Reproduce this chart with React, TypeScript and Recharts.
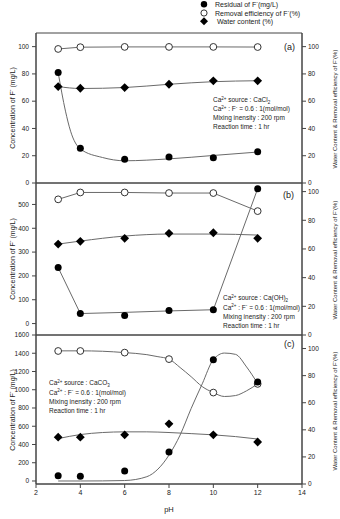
import React from 'react';
import { ComposedChart, Line, XAxis, YAxis, ReferenceArea } from 'recharts';

// pH values of the measurements
const PH = [3, 4, 6, 8, 10, 12];

// Panel (a) CaCl2
const residualA = [81, 25.5, 17.5, 19, 18.5, 23];
const removalA = [98.3, 99.6, 99.8, 99.8, 99.8, 99.7];
const waterA = [70.7, 69.5, 70, 72.4, 74.9, 74.9];
const fitPhA = [3, 3.33, 3.56, 4, 5, 6, 8, 10, 12];
const fitResidualA = [81, 52.7, 38, 25, 18.7, 16.3, 17.7, 20.2, 22.7];
const fitWaterA = [70.7, 69.3, 70, 72.4, 74.3, 75];

// Panel (b) Ca(OH)2
const residualB = [235, 42, 34, 55, 58, 566];
const removalB = [94.6, 99.4, 99.4, 99, 99, 86.4];
const waterB = [63.4, 65.3, 67.4, 70.9, 71.3, 67.4];
const fitResidualB = [235, 42, 47, 53, 58, 566];
const fitWaterB = [63.4, 65.5, 69, 70.4, 70.4, 69.7];

// Panel (c) CaCO3
const residualC = [58, 51, 109, 317, 1330, 1085];
const removalC = [98.2, 98.2, 97, 92.2, 67.5, 73.9];
const waterC = [34.6, 34.6, 36.3, 44.4, 36.3, 31];
const fitPhC = [3, 4, 5, 6, 7, 7.5, 8, 8.5, 9, 9.5, 10, 10.5, 11, 11.5, 12];
const fitResidualC = [0, 0, 1, 5, 47, 130, 284, 503, 795, 1065, 1330, 1402, 1388, 1250, 1068];
const fitRemovalC = [98.3, 98.3, 98, 97, 95.5, 94, 92.2, 86, 79.2, 71.9, 67.5, 64.6, 65.3, 68.8, 73.9];
const fitPhWaterC = [3, 4, 5, 6, 7, 8, 9, 10, 11, 12];
const fitWaterC = [33.5, 36.5, 38, 38.5, 38.5, 38, 37.2, 36.3, 35, 33.2];

// Tick labels
const PH_TICKS = [2, 4, 6, 8, 10, 12, 14];
const PCT_TICKS = [0, 20, 40, 60, 80, 100];
const CONC_TICKS_A = [0, 20, 40, 60, 80, 100];
const CONC_TICKS_B = [0, 100, 200, 300, 400, 500];
const CONC_TICKS_C = [0, 200, 400, 600, 800, 1000, 1200, 1400, 1600];

const FONT = '"Liberation Sans", Arial, Helvetica, sans-serif';
const INK = '#222';
const LINE = '#6a6a6a';

const pts = (xs: number[], ys: number[]) => xs.map((x, i) => ({ x, y: ys[i] }));

const FilledDot = (p: any) =>
  p.cx == null ? <g key={p.index} /> : <circle key={p.index} cx={p.cx} cy={p.cy} r={3.5} fill="#000" />;
const OpenDot = (p: any) =>
  p.cx == null ? <g key={p.index} /> : (
    <circle key={p.index} cx={p.cx} cy={p.cy} r={3.4} fill="#fff" stroke="#333" strokeWidth={1} />
  );
const DiamondDot = (p: any) => {
  if (p.cx == null) return <g key={p.index} />;
  const s = 4.4;
  return (
    <polygon
      key={p.index}
      points={`${p.cx},${p.cy - s} ${p.cx + s},${p.cy} ${p.cx},${p.cy + s} ${p.cx - s},${p.cy}`}
      fill="#000"
    />
  );
};

type Series = {
  data: { x: number; y: number }[];
  axis: 'l' | 'r';
  stroke?: boolean;
  curve?: 'monotone' | 'linear';
  marker?: 'filled' | 'open' | 'diamond';
};

function Panel(props: {
  top: number;
  height: number;
  mTop: number;
  mBottom: number;
  showX: boolean;
  lDomain: [number, number];
  lTicks: number[];
  rDomain: [number, number];
  rTicks: number[];
  series: Series[];
}) {
  const { top, height, mTop, mBottom, showX, lDomain, lTicks, rDomain, rTicks, series } = props;
  const tickStyle = { fontSize: 6.5, fill: INK, fontFamily: FONT };
  return (
    <div style={{ position: 'absolute', left: 0, top, width: 340, height }}>
      <ComposedChart width={340} height={height} margin={{ top: mTop, right: 0, bottom: mBottom, left: 0 }}>
        <XAxis
          type="number"
          dataKey="x"
          domain={[2, 14]}
          ticks={PH_TICKS}
          interval={0}
          hide={!showX}
          height={35}
          tickSize={4}
          tickMargin={2}
          stroke="#444"
          tick={{ fontSize: 7, fill: INK, fontFamily: FONT }}
          allowDataOverflow
        />
        <YAxis
          yAxisId="l"
          type="number"
          domain={lDomain}
          ticks={lTicks}
          interval={0}
          width={36}
          tickSize={4}
          tickMargin={3}
          stroke="#444"
          tick={tickStyle}
          allowDataOverflow
        />
        <YAxis
          yAxisId="r"
          orientation="right"
          type="number"
          domain={rDomain}
          ticks={rTicks}
          interval={0}
          width={38}
          tickSize={4}
          tickMargin={2}
          stroke="#444"
          tick={tickStyle}
          allowDataOverflow
        />
        <ReferenceArea
          yAxisId="l"
          x1={2}
          x2={14}
          y1={lDomain[0]}
          y2={lDomain[1]}
          fill="none"
          fillOpacity={0}
          stroke="#444"
          strokeWidth={1}
          ifOverflow="visible"
        />
        {series.map((s, i) => (
          <Line
            key={i}
            data={s.data}
            dataKey="y"
            yAxisId={s.axis}
            type={s.curve || 'linear'}
            stroke={s.stroke ? LINE : 'none'}
            strokeWidth={1}
            dot={
              s.marker === 'filled' ? FilledDot : s.marker === 'open' ? OpenDot : s.marker === 'diamond' ? DiamondDot : false
            }
            activeDot={false}
            isAnimationActive={false}
            legendType="none"
          />
        ))}
      </ComposedChart>
    </div>
  );
}

function Sup({ children }: { children: React.ReactNode }) {
  return null as any;
}

function AnnotationBlock({ x, y, source }: { x: number; y: number[]; source: React.ReactNode }) {
  const fs = 6.5;
  return (
    <g fontFamily={FONT} fontSize={fs} fill={INK}>
      <text x={x} y={y[0]}>
        Ca<tspan dy={-2.5} fontSize={4.5}>2+</tspan>
        <tspan dy={2.5}> source : </tspan>
        {source}
      </text>
      <text x={x} y={y[1]}>
        Ca<tspan dy={-2.5} fontSize={4.5}>2+</tspan>
        <tspan dy={2.5}> : F</tspan>
        <tspan dy={-2.5} fontSize={4.5}>-</tspan>
        <tspan dy={2.5}> = 0.6 : 1(mol/mol)</tspan>
      </text>
      <text x={x} y={y[2]}>Mixing inensity : 200 rpm</text>
      <text x={x} y={y[3]}>Reaction time : 1 hr</text>
    </g>
  );
}

function Formula({ base, sub }: { base: string; sub: string }) {
  return (
    <>
      <tspan>{base}</tspan>
      <tspan dy={1.8} fontSize={4.5}>{sub}</tspan>
    </>
  );
}

function Overlay() {
  const leftTitleX = 12;
  const rightTitleX = 335;
  const mids = [108, 259, 410];
  return (
    <svg
      width={340}
      height={519}
      style={{ position: 'absolute', left: 0, top: 0, pointerEvents: 'none' }}
    >
      {/* legend */}
      <g fontFamily={FONT} fontSize={7} fill={INK}>
        <circle cx={204} cy={4.3} r={3.2} fill="#000" />
        <text x={215} y={6.8}>
          Residual of F<tspan dy={-2.5} fontSize={5}>-</tspan>
          <tspan dy={2.5}>(mg/L)</tspan>
        </text>
        <circle cx={204} cy={13} r={3.1} fill="#fff" stroke="#333" strokeWidth={1} />
        <text x={215} y={15.5}>
          Removal efficiency of F<tspan dy={-2.5} fontSize={5}>-</tspan>
          <tspan dy={2.5}>(%)</tspan>
        </text>
        <polygon points="204,17.3 208,21.3 204,25.3 200,21.3" fill="#000" />
        <text x={217} y={23.8}>Water content (%)</text>
      </g>

      {/* panel labels */}
      <g fontFamily={FONT} fontSize={9} fill={INK}>
        <text x={284} y={50}>(a)</text>
        <text x={283} y={198}>(b)</text>
        <text x={284} y={347}>(c)</text>
      </g>

      {/* annotations */}
      <AnnotationBlock x={213} y={[102, 111.3, 120.3, 129]} source={<Formula base="CaCl" sub="2" />} />
      <AnnotationBlock x={223} y={[300.3, 309.8, 319.3, 328.3]} source={<Formula base="Ca(OH)" sub="2" />} />
      <AnnotationBlock x={49} y={[385, 394.6, 404, 412.5]} source={<Formula base="CaCO" sub="3" />} />

      {/* axis titles */}
      {mids.map((m, i) => (
        <g key={i} fontFamily={FONT} fill={INK}>
          <text
            x={leftTitleX}
            y={m}
            fontSize={7}
            textAnchor="middle"
            dominantBaseline="central"
            transform={`rotate(-90 ${leftTitleX} ${m})`}
          >
            Concentration of F<tspan dy={-2.5} fontSize={5}>-</tspan>
            <tspan dy={2.5}> (mg/L)</tspan>
          </text>
          <text
            x={rightTitleX}
            y={m + 1}
            fontSize={6}
            textAnchor="middle"
            dominantBaseline="central"
            transform={`rotate(-90 ${rightTitleX} ${m + 1})`}
          >
            Water Content &amp; Removal efficiency of F<tspan dy={-2.2} fontSize={4.5}>-</tspan>
            <tspan dy={2.2}>(%)</tspan>
          </text>
        </g>
      ))}

      <text x={169} y={512} fontFamily={FONT} fontSize={7.5} fill={INK} textAnchor="middle">
        pH
      </text>
    </svg>
  );
}

export default function App() {
  return (
    <div style={{ position: 'absolute', left: 0, top: 0, width: 340, height: 519, background: '#fff' }}>
      <Panel
        top={0}
        height={190}
        mTop={33}
        mBottom={7}
        showX={false}
        lDomain={[0, 110]}
        lTicks={CONC_TICKS_A}
        rDomain={[0, 110]}
        rTicks={PCT_TICKS}
        series={[
          { data: pts(fitPhA, fitResidualA), axis: 'l', stroke: true, curve: 'monotone' },
          { data: pts(PH, fitWaterA), axis: 'r', stroke: true, curve: 'monotone' },
          { data: pts(PH, removalA), axis: 'r', stroke: true, curve: 'linear', marker: 'open' },
          { data: pts(PH, waterA), axis: 'r', marker: 'diamond' },
          { data: pts(PH, residualA), axis: 'l', marker: 'filled' },
        ]}
      />
      <Panel
        top={176}
        height={166}
        mTop={7}
        mBottom={7}
        showX={false}
        lDomain={[-48, 590]}
        lTicks={CONC_TICKS_B}
        rDomain={[0, 106]}
        rTicks={PCT_TICKS}
        series={[
          { data: pts(PH, fitResidualB), axis: 'l', stroke: true, curve: 'linear' },
          { data: pts(PH, fitWaterB), axis: 'r', stroke: true, curve: 'monotone' },
          { data: pts(PH, removalB), axis: 'r', stroke: true, curve: 'linear', marker: 'open' },
          { data: pts(PH, waterB), axis: 'r', marker: 'diamond' },
          { data: pts(PH, residualB), axis: 'l', marker: 'filled' },
        ]}
      />
      <Panel
        top={328}
        height={191}
        mTop={7}
        mBottom={0}
        showX={true}
        lDomain={[-33, 1600]}
        lTicks={CONC_TICKS_C}
        rDomain={[0, 110]}
        rTicks={PCT_TICKS}
        series={[
          { data: pts(fitPhC, fitResidualC), axis: 'l', stroke: true, curve: 'monotone' },
          { data: pts(fitPhC, fitRemovalC), axis: 'r', stroke: true, curve: 'monotone' },
          { data: pts(fitPhWaterC, fitWaterC), axis: 'r', stroke: true, curve: 'monotone' },
          { data: pts(PH, removalC), axis: 'r', marker: 'open' },
          { data: pts(PH, waterC), axis: 'r', marker: 'diamond' },
          { data: pts(PH, residualC), axis: 'l', marker: 'filled' },
        ]}
      />
      <Overlay />
    </div>
  );
}
